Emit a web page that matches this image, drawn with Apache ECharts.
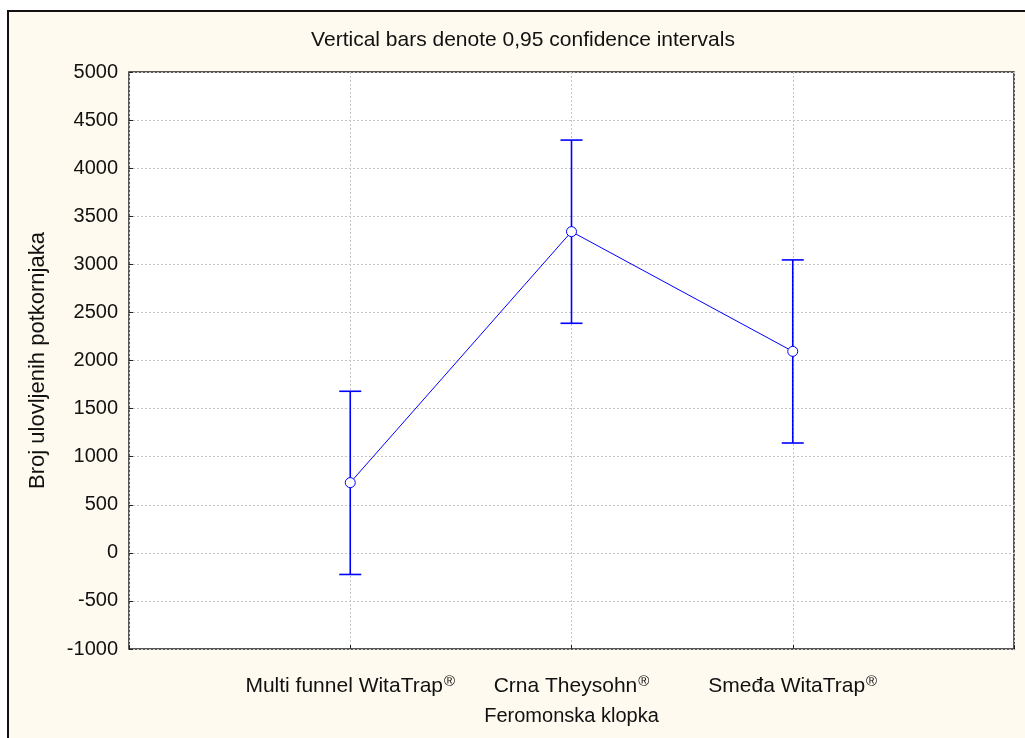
<!DOCTYPE html>
<html>
<head>
<meta charset="utf-8">
<script src="https://cdn.jsdelivr.net/npm/echarts@6/dist/echarts.min.js"></script>
<style>
html,body{margin:0;padding:0;background:#fff;}
#c{width:1025px;height:738px;}
</style>
</head>
<body>
<div id="c"></div>
<script>
// ---- data ----
var categories = ['Multi funnel WitaTrap', 'Crna Theysohn', 'Smeđa WitaTrap'];
var means = [730, 3340, 2095];
var lowerCI = [-225, 2387, 1142];
var upperCI = [1680, 4292, 3046];
var yTicks = { min: -1000, max: 5000, interval: 500 };
var titleText = 'Vertical bars denote 0,95 confidence intervals';
var xName = 'Feromonska klopka';
var yName = 'Broj ulovljenih potkornjaka';

var blue = '#0000ff';
var FONT = 'Liberation Sans, Arial, sans-serif';
var lineData = means.map(function (v, i) { return [i + 1, v]; });
var errData = means.map(function (v, i) { return [i + 1, lowerCI[i], upperCI[i]]; });

var chart = echarts.init(document.getElementById('c'), null, { renderer: 'canvas' });
chart.setOption({
  backgroundColor: '#ffffff',
  animation: false,
  textStyle: { fontFamily: FONT },
  graphic: [
    { type: 'rect', z: -10, shape: { x: 8, y: 11, width: 1030, height: 740 },
      style: { fill: '#fefaef', stroke: '#111', lineWidth: 2 } },
    { type: 'text', x: 523, y: 40, z: 10,
      style: { text: titleText, fontSize: 21, fill: '#111', align: 'center', verticalAlign: 'middle',
               fontFamily: FONT } }
  ],
  grid: { left: 129, top: 72, right: 11, bottom: 89, show: true, backgroundColor: '#ffffff',
          borderColor: '#222', borderWidth: 1.5 },
  xAxis: {
    type: 'value', min: 0, max: 4, interval: 1,
    name: xName, nameLocation: 'middle', nameGap: 57,
    nameTextStyle: { fontSize: 20, color: '#111' },
    axisLine: { show: false, onZero: false },
    axisTick: { show: true, inside: true, length: 4, lineStyle: { color: '#222' } },
    splitLine: { show: true, lineStyle: { color: '#c4c4c4', type: [2, 2], width: 1 } },
    axisLabel: {
      margin: 25, color: '#111', fontSize: 21,
      formatter: function (v) {
        var c = categories[v - 1];
        return c ? '{m|' + c + '}{s|®}' : '';
      },
      rich: {
        m: { fontSize: 21, color: '#111' },
        s: { fontSize: 15, color: '#111', padding: [0, 0, 10, 1] }
      }
    }
  },
  yAxis: {
    type: 'value', min: yTicks.min, max: yTicks.max, interval: yTicks.interval,
    name: yName, nameLocation: 'middle', nameGap: 80,
    nameTextStyle: { fontSize: 22, color: '#111' },
    axisLine: { show: false, onZero: false },
    axisTick: { show: true, inside: true, length: 4, lineStyle: { color: '#222' } },
    splitLine: { show: true, lineStyle: { color: '#c4c4c4', type: [2, 2], width: 1 } },
    axisLabel: { margin: 11, color: '#111', fontSize: 20,
                 formatter: function (v) { return String(v); } }
  },
  series: [
    {
      type: 'custom',
      data: errData,
      z: 2,
      renderItem: function (params, api) {
        var x = api.value(0);
        var lo = api.coord([x, api.value(1)]);
        var hi = api.coord([x, api.value(2)]);
        var hw = 11;
        var st = { stroke: blue, lineWidth: 1.6 };
        return { type: 'group', children: [
          { type: 'line', shape: { x1: lo[0], y1: lo[1], x2: hi[0], y2: hi[1] }, style: st },
          { type: 'line', shape: { x1: lo[0] - hw, y1: lo[1], x2: lo[0] + hw, y2: lo[1] }, style: st },
          { type: 'line', shape: { x1: hi[0] - hw, y1: hi[1], x2: hi[0] + hw, y2: hi[1] }, style: st }
        ] };
      }
    },
    {
      type: 'line',
      data: lineData,
      z: 3,
      symbol: 'circle', symbolSize: 10,
      lineStyle: { color: blue, width: 1 },
      itemStyle: { color: '#ffffff', borderColor: blue, borderWidth: 1 }
    }
  ]
});
</script>
</body>
</html>
